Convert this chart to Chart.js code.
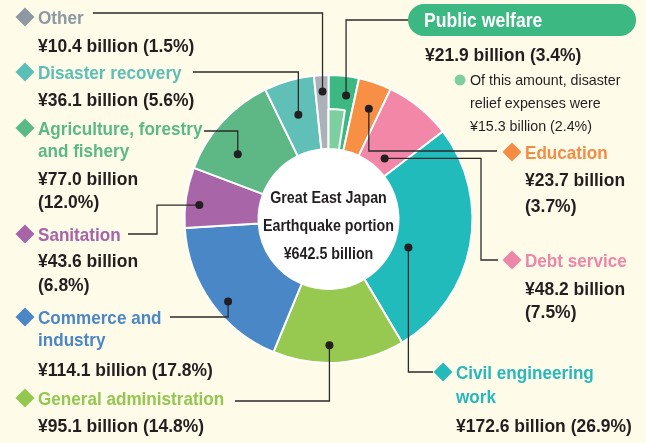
<!DOCTYPE html>
<html>
<head>
<meta charset="utf-8">
<script src="https://cdn.jsdelivr.net/npm/chart.js@4.4.1/dist/chart.umd.min.js"></script>
<style>
html, body { margin: 0; padding: 0; background: #fffbe9; }
#wrap { position: relative; width: 646px; height: 443px; }
#wrap canvas { position: absolute; left: 0; top: 0; }
</style>
</head>
<body>
<div id="wrap">
  <canvas id="ring" width="646" height="443"></canvas>
  <canvas id="sub" width="646" height="443"></canvas>
</div>
<script>
// data, clockwise from 12 o'clock
const categories = ['Public welfare', 'Education', 'Debt service', 'Civil engineering work',
    'General administration', 'Commerce and industry', 'Sanitation',
    'Agriculture, forestry and fishery', 'Disaster recovery', 'Other'];
const amounts = [21.9, 23.7, 48.2, 172.6, 95.1, 114.1, 43.6, 77.0, 36.1, 10.4];
const shares = [3.4, 3.7, 7.5, 26.9, 14.8, 17.8, 6.8, 12.0, 5.6, 1.5];
const reliefAmount = 15.3;
const reliefShare = 2.4;
const totalAmount = 642.5;

const sliceColors = ['#3cb982', '#f78f45', '#f287a8', '#22bbbc', '#97c84f',
    '#4a87c6', '#a866a9', '#5db886', '#60bfb6', '#aab1b9'];
const labelColors = ['#3cb982', '#f68b44', '#ee86a8', '#25b9bc', '#93c850',
    '#4b87c6', '#a764a8', '#5ab987', '#5cbfb6', '#8d98a3'];
const reliefColor = '#7ecfa0';
const ink = '#231f20';

// where each callout sits (layout only)
const callouts = [
    { at: 0.66, r: 0.74, lineY: 20, endX: 408, tx: 425, title: [27], value: [61] },
    { at: 0.59, r: 0.64, lineY: 151, endX: 497, dx: 512, tx: 525, title: [159], value: [186, 212] },
    { at: 0.64, r: 0.17, elbowX: 481, lineY: 260, endX: 498, dx: 512, tx: 525, title: [267], value: [295, 318] },
    { at: 0.59, r: 0.20, lineY: 372, endX: 433, dx: 443, tx: 456, title: [379, 403], value: [432] },
    { at: 0.57, r: 0.76, lineY: 401, endX: 235, dx: 25, tx: 38, title: [405], value: [432] },
    { at: 0.44, r: 0.81, lineY: 317, endX: 170, dx: 25, tx: 38, title: [324, 346], value: [376] },
    { at: 0.40, r: 0.81, elbowX: 157, lineY: 234, endX: 128, dx: 25, tx: 38, title: [241], value: [267, 291] },
    { at: 0.34, r: 0.56, lineY: 131, endX: 204, dx: 25, tx: 38, title: [135, 157], value: [185, 208] },
    { at: 0.49, r: 0.52, lineY: 72, endX: 193, dx: 25, tx: 38, title: [79], value: [106] },
    { at: 0.54, r: 0.78, lineY: 13, endX: 93, dx: 25, tx: 38, title: [24], value: [52] }
];

const FONT = '"Liberation Sans", Arial, sans-serif';

function squeezeText(ctx, str, x, y, size, weight, color, squeeze, align) {
    ctx.save();
    ctx.font = weight + ' ' + size + 'px ' + FONT;
    ctx.fillStyle = color;
    ctx.textBaseline = 'alphabetic';
    ctx.textAlign = align || 'left';
    ctx.translate(x, y);
    ctx.scale(squeeze, 1);
    ctx.fillText(str, 0, 0);
    ctx.restore();
}

function splitLines(words, n) {
    if (n === 1) return [words];
    const parts = words.split(' ');
    const cut = parts.length - (n === 2 ? (parts.length > 3 ? 2 : 1) : 0);
    return [parts.slice(0, cut).join(' '), parts.slice(cut).join(' ')];
}

const padding = { left: 184.5, right: 173.5, top: 75, bottom: 80 };

const centerDisk = {
    id: 'centerDisk',
    beforeDatasetsDraw(chart) {
        const arc = chart.getDatasetMeta(0).data[0];
        const ctx = chart.ctx;
        ctx.save();
        ctx.fillStyle = '#ffffff';
        ctx.beginPath();
        ctx.arc(arc.x, arc.y, arc.innerRadius, 0, Math.PI * 2);
        ctx.fill();
        ctx.restore();
    },
    afterDatasetsDraw(chart) {
        const arc = chart.getDatasetMeta(0).data[0];
        const ctx = chart.ctx;
        squeezeText(ctx, 'Great East Japan', arc.x, arc.y - 16, 17, 'bold', ink, 0.84, 'center');
        squeezeText(ctx, 'Earthquake portion', arc.x, arc.y + 12, 17, 'bold', ink, 0.84, 'center');
        squeezeText(ctx, '¥' + totalAmount.toFixed(1) + ' billion', arc.x, arc.y + 40, 17, 'bold', ink, 0.84, 'center');
    }
};

const ringChart = new Chart(document.getElementById('ring'), {
    type: 'doughnut',
    data: {
        labels: categories,
        datasets: [{
            data: amounts,
            backgroundColor: sliceColors,
            borderColor: '#ffffff',
            borderWidth: 2
        }]
    },
    options: {
        responsive: false,
        animation: false,
        radius: 144,
        cutout: '48.6%',
        layout: { padding: padding },
        plugins: { legend: { display: false }, tooltip: { enabled: false } }
    },
    plugins: [centerDisk]
});

const rest = amounts.reduce((a, b) => a + b, 0) - reliefAmount;

const calloutPlugin = {
    id: 'callouts',
    afterDraw(chart) {
        const ctx = chart.ctx;
        const arcs = ringChart.getDatasetMeta(0).data;

        // leader lines + dots
        callouts.forEach((c, i) => {
            const a = arcs[i];
            const ang = a.startAngle + c.at * (a.endAngle - a.startAngle);
            const rr = a.innerRadius + c.r * (a.outerRadius - a.innerRadius);
            const px = a.x + rr * Math.cos(ang);
            const py = a.y + rr * Math.sin(ang);
            const ex = c.elbowX !== undefined ? c.elbowX : px;
            ctx.save();
            ctx.strokeStyle = '#2b2b2b';
            ctx.lineWidth = 1.3;
            ctx.beginPath();
            ctx.moveTo(px, py);
            ctx.lineTo(ex, py);
            ctx.lineTo(ex, c.lineY);
            ctx.lineTo(c.endX, c.lineY);
            ctx.stroke();
            ctx.fillStyle = ink;
            ctx.beginPath();
            ctx.arc(px, py, 4, 0, Math.PI * 2);
            ctx.fill();
            ctx.restore();
        });

        // labels
        callouts.forEach((c, i) => {
            const value = '¥' + amounts[i].toFixed(1) + ' billion';
            const pct = '(' + shares[i].toFixed(1) + '%)';
            if (i === 0) {
                ctx.save();
                ctx.fillStyle = labelColors[0];
                ctx.beginPath();
                ctx.roundRect(408, 4, 228, 32, 16);
                ctx.fill();
                ctx.restore();
                squeezeText(ctx, categories[0], 424, c.title[0], 20, 'bold', '#ffffff', 0.88);
            } else {
                const cy = c.title[0] - 7;
                ctx.save();
                ctx.fillStyle = labelColors[i];
                ctx.beginPath();
                ctx.moveTo(c.dx, cy - 9.5);
                ctx.lineTo(c.dx + 9.5, cy);
                ctx.lineTo(c.dx, cy + 9.5);
                ctx.lineTo(c.dx - 9.5, cy);
                ctx.closePath();
                ctx.fill();
                ctx.restore();
                const lines = splitLines(categories[i], c.title.length);
                lines.forEach((t, k) => squeezeText(ctx, t, c.tx, c.title[k], 19, 'bold', labelColors[i], 0.9));
            }
            if (c.value.length === 2) {
                squeezeText(ctx, value, c.tx, c.value[0], 19, 'bold', ink, 0.92);
                squeezeText(ctx, pct, c.tx, c.value[1], 19, 'bold', ink, 0.92);
            } else {
                squeezeText(ctx, value + ' ' + pct, c.tx, c.value[0], 19, 'bold', ink, 0.92);
            }
        });

        // relief note
        ctx.save();
        ctx.fillStyle = reliefColor;
        ctx.beginPath();
        ctx.arc(460, 80, 5.5, 0, Math.PI * 2);
        ctx.fill();
        ctx.restore();
        squeezeText(ctx, 'Of this amount, disaster', 470, 85, 15, 'normal', ink, 0.95);
        squeezeText(ctx, 'relief expenses were', 470, 108, 15, 'normal', ink, 0.95);
        squeezeText(ctx, '¥' + reliefAmount.toFixed(1) + ' billion (' + reliefShare.toFixed(1) + '%)', 470, 131, 15, 'normal', ink, 0.95);
    }
};

new Chart(document.getElementById('sub'), {
    type: 'doughnut',
    data: {
        labels: ['Disaster relief', ''],
        datasets: [{
            data: [reliefAmount, rest],
            backgroundColor: [reliefColor, 'rgba(0,0,0,0)'],
            borderColor: '#ffffff',
            borderWidth: [2, 0]
        }]
    },
    options: {
        responsive: false,
        animation: false,
        radius: 110,
        cutout: '63.6%',
        layout: { padding: padding },
        plugins: { legend: { display: false }, tooltip: { enabled: false } }
    },
    plugins: [calloutPlugin]
});
</script>
</body>
</html>
